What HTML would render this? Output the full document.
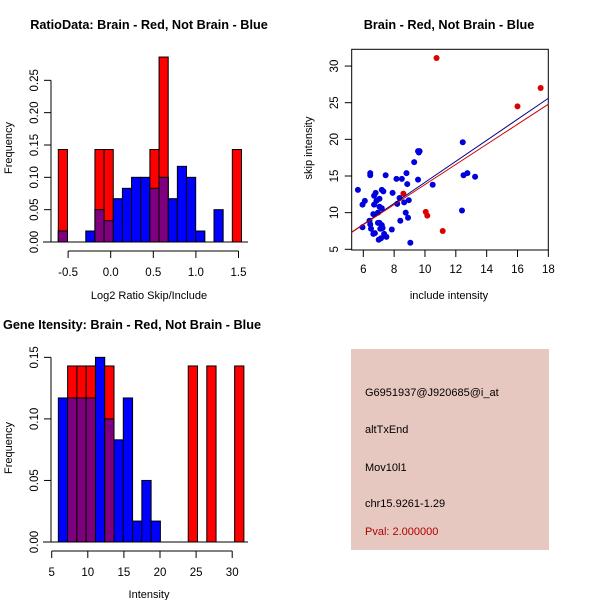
<!DOCTYPE html>
<html><head><meta charset="utf-8"><style>
html,body{margin:0;padding:0;background:#fff;}
svg text{font-family:"Liberation Sans",sans-serif;}
</style></head><body>
<svg id="fig" width="600" height="600" viewBox="0 0 600 600" xmlns="http://www.w3.org/2000/svg">
<rect width="600" height="600" fill="#fff"/>
<g id="p1"></g>
<g id="p2"></g>
<g id="p3"></g>
<g>
<rect x="351" y="349" width="198" height="201" fill="#e6c8c0"/>
<text x="365" y="396" font-size="11" fill="#000">G6951937@J920685@i_at</text>
<text x="365" y="433" font-size="11" fill="#000">altTxEnd</text>
<text x="365" y="471" font-size="11" fill="#000">Mov10l1</text>
<text x="365" y="507" font-size="11" fill="#000">chr15.9261-1.29</text>
<text x="365" y="535" font-size="11" fill="#b00000">Pval: 2.000000</text>
</g>
</svg>
<script>
// ---- Plot 1 data ----
const ratioBinStart = -0.615;
const ratioBinWidth = 0.1075;
const ratioBlue = [0.017,0,0,0.017,0.05,0.033,0.067,0.083,0.1,0.1,0.083,0.1,0.067,0.117,0.1,0.017,0,0.05,0,0];
const ratioRed  = [0.143,0,0,0,0.143,0.143,0,0,0,0,0.143,0.286,0,0,0,0,0,0,0,0.143];
const ratioXTicks = [-0.5,0.0,0.5,1.0,1.5];
const ratioXTickLabels = ["-0.5","0.0","0.5","1.0","1.5"];
const ratioYTicks = [0,0.05,0.10,0.15,0.20,0.25];
const ratioYTickLabels = ["0.00","0.05","0.10","0.15","0.20","0.25"];
// ---- Plot 2 data ----
const blueX = [5.65,5.95,6.1,5.95,6.45,6.45,6.4,6.45,6.5,6.65,6.75,6.65,6.7,6.7,6.8,6.85,6.95,6.95,7.0,7.05,7.05,7.05,7.1,7.15,7.2,7.2,7.2,7.25,7.3,7.35,7.45,7.5,7.85,7.9,8.15,8.2,8.35,8.4,8.5,8.65,8.75,8.8,8.85,8.9,8.95,9.05,9.3,9.55,9.55,9.65,9.6,10.5,12.4,12.45,12.5,12.75,13.25];
const blueY = [13.1,11.1,11.6,8,15.4,15.1,8.9,8.4,7.8,7.1,7.2,9.8,11.1,12.3,12.7,11.6,8.6,10,6.3,8.6,11.9,10.8,7.8,6.5,8.3,10.6,13.1,7.9,12.9,7.1,15.1,6.7,7.7,12.7,14.6,11.2,12,8.9,14.6,11.4,10,15.4,13.9,9.3,11.7,5.9,16.9,14.5,18.4,18.4,18.2,13.8,10.3,19.6,15.1,15.4,14.9];
const redX = [10.75,16,17.5,8.6,10.05,10.15,11.15];
const redY = [31.1,24.5,27,12.6,10.1,9.6,7.5];
const blueFit = [-0.195,1.433];
const redFit = [0.134,1.370];
const scXTicks = [6,8,10,12,14,16,18];
const scYTicks = [5,10,15,20,25,30];
// ---- Plot 3 data ----
const intBinStart = 5.92;
const intBinWidth = 1.285;
const intBlue = [0.117,0.117,0.117,0.117,0.15,0.1,0.083,0.117,0.017,0.05,0.017,0,0,0,0,0,0,0,0,0];
const intRed  = [0,0.143,0.143,0.143,0,0.143,0,0,0,0,0,0,0,0,0.143,0,0.143,0,0,0.143];
const intXTicks = [5,10,15,20,25,30];
const intYTicks = [0,0.05,0.10,0.15];
const intYTickLabels = ["0.00","0.05","0.10","0.15"];

const NS="http://www.w3.org/2000/svg";
function mk(parent,tag,attrs){const e=document.createElementNS(NS,tag);for(const k in attrs)e.setAttribute(k,attrs[k]);parent.appendChild(e);return e;}
function txt(parent,x,y,s,opts){const t=mk(parent,'text',Object.assign({x:x,y:y,'font-size':12,fill:'#000','text-anchor':'middle'},opts||{}));t.textContent=s;return t;}

function hist(g,o){
  const sx=v=>o.x0+(v-o.v0)*o.kx, sy=v=>o.y0-v*o.ky;
  for(let i=0;i<o.blue.length||i<o.red.length;i++){
    const b=o.blue[i]||0,r=o.red[i]||0;
    const xa=sx(o.bs+i*o.bw), xb=sx(o.bs+(i+1)*o.bw);
    if(b>0){const e=mk(g,'rect',{x:xa,y:sy(b),width:xb-xa,height:sy(0)-sy(b),fill:'#0000ff',stroke:'#000','stroke-width':1});
      
      }
    if(r>0){const e=mk(g,'rect',{x:xa,y:sy(r),width:xb-xa,height:sy(0)-sy(r),fill:'#ff0000',stroke:'#000','stroke-width':1});
      
      }
    if(b>0&&r>0){const m=Math.min(b,r);const e=mk(g,'rect',{x:xa,y:sy(m),width:xb-xa,height:sy(0)-sy(m),fill:'#7f007f',stroke:'#000','stroke-width':1});
      
      }
  }
  mk(g,'line',{x1:43,x2:248,y1:o.y0,y2:o.y0,stroke:'#000'});
  const ya=mk(g,'g',{});
  
  
  mk(ya,'line',{x1:51,x2:51,y1:sy(o.yt[0]),y2:sy(o.yt[o.yt.length-1]),stroke:'#000'});
  o.yt.forEach((v,i)=>{mk(ya,'line',{x1:44,x2:51,y1:sy(v),y2:sy(v),stroke:'#000'});
    txt(ya,34,sy(v)+4,o.ytl[i],{transform:`rotate(-90 34 ${sy(v)})`,'font-size':11.5});});
  const xa=mk(g,'g',{});
  
  
  const ay=o.y0+9;
  mk(xa,'line',{x1:sx(o.xt[0]),x2:sx(o.xt[o.xt.length-1]),y1:ay,y2:ay,stroke:'#000'});
  o.xt.forEach((v,i)=>{mk(xa,'line',{x1:sx(v),x2:sx(v),y1:ay,y2:ay+7,stroke:'#000'});
    txt(xa,sx(v),ay+25,o.xtl[i],{'font-size':11.5});});
}

const p1=document.getElementById('p1');
hist(p1,{x0:110.7,v0:0,kx:85.2,y0:242,ky:646.7,bs:ratioBinStart,bw:ratioBinWidth,blue:ratioBlue,red:ratioRed,xt:ratioXTicks,xtl:ratioXTickLabels,yt:ratioYTicks,ytl:ratioYTickLabels});
txt(p1,149,29,'RatioData: Brain - Red, Not Brain - Blue',{'font-weight':'bold','font-size':12.7,});
txt(p1,149,299,'Log2 Ratio Skip/Include',{'font-size':11,});
txt(p1,12,148,'Frequency',{'font-size':11,transform:'rotate(-90 12 148)',});

const p3=document.getElementById('p3');
hist(p3,{x0:51.7,v0:5,kx:7.22,y0:542,ky:1231,bs:intBinStart,bw:intBinWidth,blue:intBlue,red:intRed,xt:intXTicks,xtl:intXTicks.map(String),yt:intYTicks,ytl:intYTickLabels});
txt(p3,3,329,'Gene Itensity: Brain - Red, Not Brain - Blue',{'font-weight':'bold','font-size':12.7,'text-anchor':'start',});
txt(p3,149,598,'Intensity',{'font-size':11,});
txt(p3,12,448,'Frequency',{'font-size':11,transform:'rotate(-90 12 448)',});

const p2=document.getElementById('p2');
const L=351.7,R=548.3,T=49.3,B=250;
const X=v=>363.3+(v-6)*15.42, Y=v=>249.3-(v-5)*7.33;
mk(p2,'defs',{}).innerHTML='<clipPath id="clip2"><rect x="351.7" y="49.3" width="196.6" height="200.7"/></clipPath>';
const fr=mk(p2,'rect',{x:L,y:T,width:R-L,height:B-T,fill:'none',stroke:'#000'});


blueX.forEach((x,i)=>{const c=mk(p2,'circle',{cx:X(x),cy:Y(blueY[i]),r:3,fill:'#0000dd'});
  
  });
redX.forEach((x,i)=>{const c=mk(p2,'circle',{cx:X(x),cy:Y(redY[i]),r:3,fill:'#dd0000'});
  
  });
const xs=[5.2,18.1];
[[blueFit,'#00008b','blue-fit-line'],[redFit,'#cc0000','red-fit-line']].forEach(([f,c,n])=>{
  const l=mk(p2,'line',{x1:X(xs[0]),y1:Y(f[0]+f[1]*xs[0]),x2:X(xs[1]),y2:Y(f[0]+f[1]*xs[1]),stroke:c,'stroke-width':1,'clip-path':'url(#clip2)'});
  
  });
const sxa=mk(p2,'g',{});


scXTicks.forEach(v=>{mk(sxa,'line',{x1:X(v),x2:X(v),y1:B,y2:B+7,stroke:'#000'});txt(sxa,X(v),B+23,String(v),{'font-size':11.5});});
const sya=mk(p2,'g',{});


scYTicks.forEach(v=>{mk(sya,'line',{x1:L-7,x2:L,y1:Y(v),y2:Y(v),stroke:'#000'});txt(sya,334,Y(v)+4,String(v),{'font-size':11.5,transform:`rotate(-90 334 ${Y(v)})`});});
txt(p2,449,29,'Brain - Red, Not Brain - Blue',{'font-weight':'bold','font-size':12.7,});
txt(p2,449,299,'include intensity',{'font-size':11,});
txt(p2,312,148,'skip intensity',{'font-size':11,transform:'rotate(-90 312 148)',});
</script>
</body></html>
